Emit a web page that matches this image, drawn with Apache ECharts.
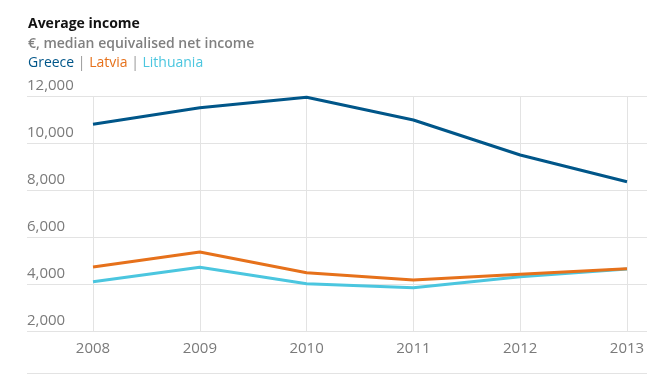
<!DOCTYPE html>
<html><head><meta charset="utf-8">
<script src="https://cdn.jsdelivr.net/npm/echarts@6/dist/echarts.min.js"></script>
<style>html,body{margin:0;padding:0;background:#fff}#c{width:661px;height:379px}</style>
</head><body><div id="c"></div>
<script>
const years = ['2008','2009','2010','2011','2012','2013'];
const seriesNames = ['Greece','Latvia','Lithuania'];
const greece = [10800, 11500, 11950, 10980, 9490, 8350];
const latvia = [4720, 5360, 4480, 4170, 4420, 4650];
const lithuania = [4100, 4710, 4010, 3840, 4310, 4640];
const yTicks = [2000, 4000, 6000, 8000, 10000, 12000];
const colors = ['#005689', '#e6711b', '#4bc6df'];
const values = [greece, latvia, lithuania];
const font = '"Open Sans", sans-serif';

const chart = echarts.init(document.getElementById('c'));
chart.setOption({
  animation: false,
  textStyle: {fontFamily: font},
  title: [
    {text: 'Average income', left: 23, top: 12,
     textStyle: {fontSize: 14, fontWeight: 'bold', color: '#121212', fontFamily: font}},
    {text: '€, median equivalised net income', left: 23, top: 32,
     textStyle: {fontSize: 14, fontWeight: 600, color: '#808080', fontFamily: font}},
    {text: '{a|' + seriesNames[0] + '}{s| | }{b|' + seriesNames[1] + '}{s| | }{c|' + seriesNames[2] + '}',
     left: 23, top: 51,
     textStyle: {fontSize: 14, fontWeight: 'normal', fontFamily: font,
       rich: {
         a: {color: colors[0], fontSize: 14, fontWeight: 'normal', fontFamily: font},
         b: {color: colors[1], fontSize: 14, fontWeight: 'normal', fontFamily: font},
         c: {color: colors[2], fontSize: 14, fontWeight: 'normal', fontFamily: font},
         s: {color: '#999', fontSize: 14, fontWeight: 'normal', fontFamily: font}
       }}}
  ],
  grid: [
    {left: 27, right: 14, top: 96, bottom: 48},
    {left: 93, right: 34, top: 96, bottom: 48}
  ],
  xAxis: [
    {gridIndex: 0, type: 'category', data: years, show: false},
    {gridIndex: 1, type: 'category', data: years, boundaryGap: false,
     axisLine: {show: false}, axisTick: {show: false},
     axisLabel: {color: '#7a7a7a', fontSize: 15, margin: 10, fontFamily: font},
     splitLine: {show: true, lineStyle: {color: '#e3e3e3', width: 1}}}
  ],
  yAxis: [
    {gridIndex: 0, type: 'value', min: 2000, max: 12000, interval: 2000,
     axisLine: {show: false}, axisTick: {show: false},
     axisLabel: {inside: true, verticalAlign: 'bottom', margin: 0, padding: [0,0,3,0],
       color: '#7a7a7a', fontSize: 15, fontFamily: font,
       formatter: v => v.toLocaleString('en-US')},
     splitLine: {show: true, lineStyle: {color: '#e3e3e3', width: 1}}},
    {gridIndex: 1, type: 'value', min: 2000, max: 12000, interval: 2000, show: false,
     splitLine: {show: false}}
  ],
  series: seriesNames.map((n, i) => ({
    name: n, type: 'line', xAxisIndex: 1, yAxisIndex: 1,
    data: values[i], showSymbol: false, symbol: 'none',
    lineStyle: {color: colors[i], width: 3}, z: 10 - i
  })),
  graphic: [
    {type: 'line', shape: {x1: 27, y1: 373.5, x2: 647, y2: 373.5},
     style: {stroke: '#e3e3e3', lineWidth: 1}}
  ]
});
</script></body></html>
